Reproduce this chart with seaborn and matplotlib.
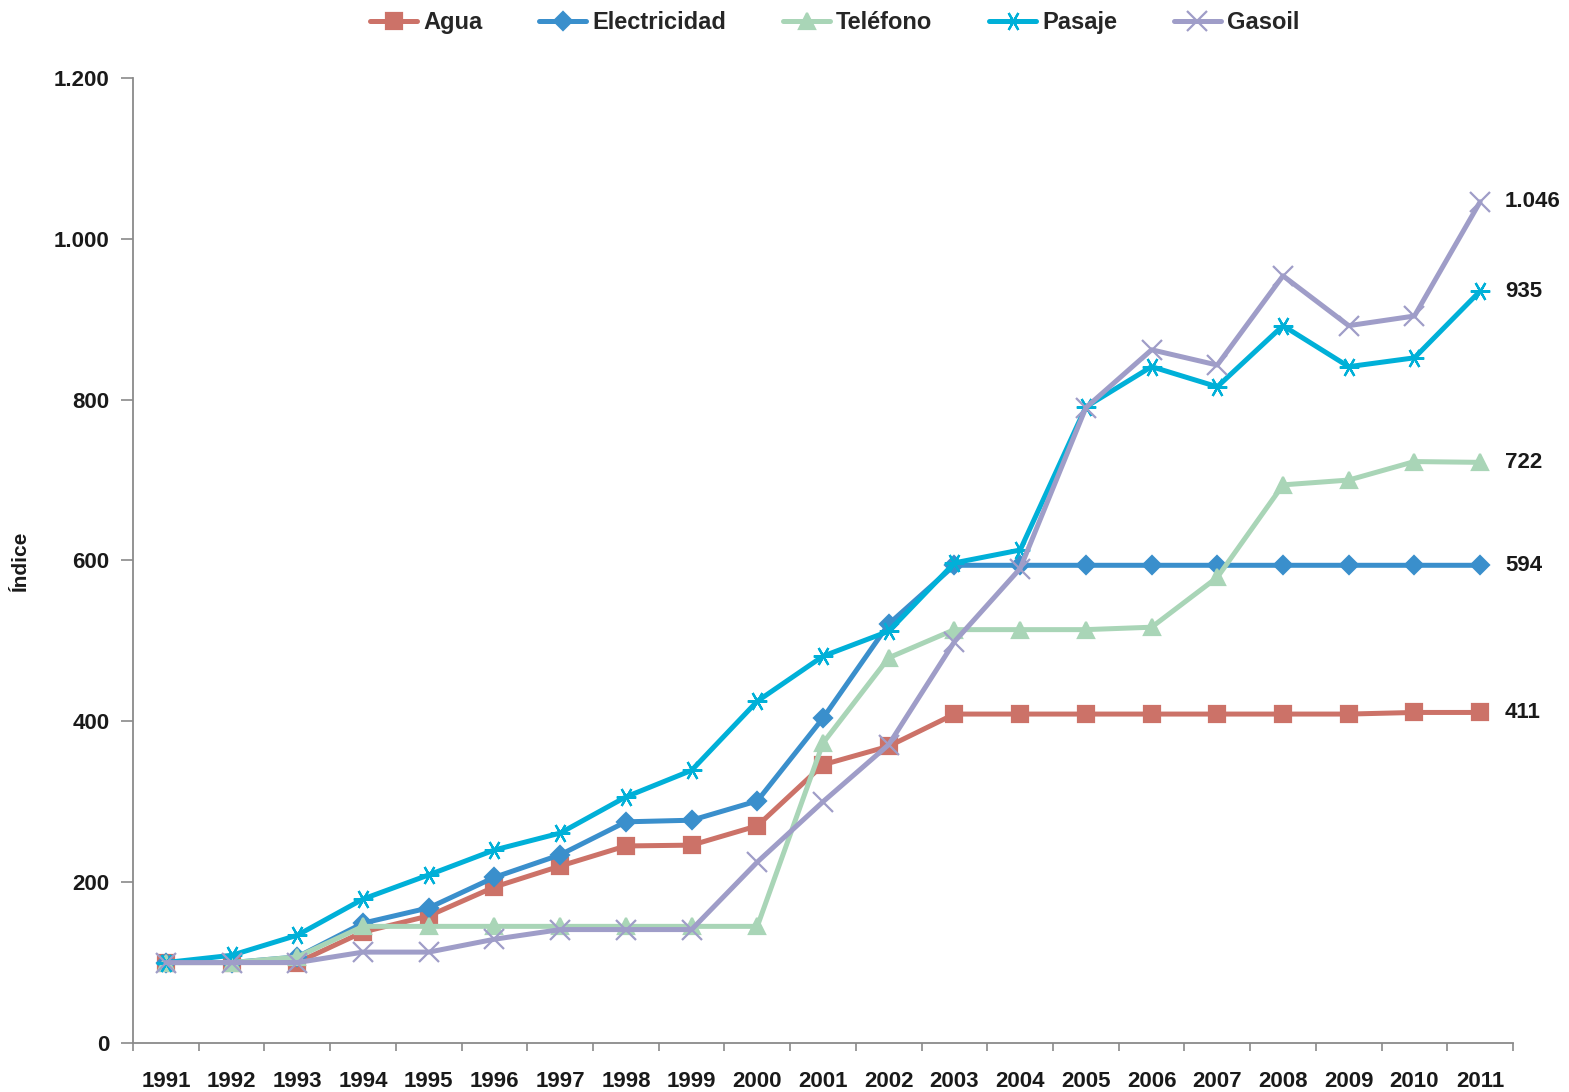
import numpy as np
import pandas as pd
import matplotlib
matplotlib.use("Agg")
import matplotlib.pyplot as plt
from matplotlib.ticker import FuncFormatter, FixedLocator
import seaborn as sns

# Datos (índice base 1991 = 100)
years = [str(y) for y in range(1991, 2012)]
agua = [100, 100, 100, 138, 158, 194, 220, 245, 246, 270, 346, 369,
        409, 409, 409, 409, 409, 409, 409, 411, 411]
electricidad = [100, 100, 107, 149, 168, 206, 234, 275, 277, 301, 404, 521,
                594, 594, 594, 594, 594, 594, 594, 594, 594]
telefono = [100, 100, 107, 145, 145, 145, 145, 145, 145, 145, 373, 479,
            514, 514, 514, 517, 579, 694, 700, 723, 722]
pasaje = [100, 109, 134, 179, 209, 240, 261, 306, 339, 425, 481, 512,
          597, 613, 791, 841, 816, 892, 841, 852, 935]
gasoil = [100, 100, 100, 113, 113, 129, 141, 141, 141, 225, 300, 371,
          499, 590, 790, 862, 843, 954, 892, 904, 1046]
end_labels = ["411", "594", "722", "935", "1.046"]

series = ["Agua", "Electricidad", "Teléfono", "Pasaje", "Gasoil"]
values = [agua, electricidad, telefono, pasaje, gasoil]
colors = ["#CC7268", "#3A8FCC", "#A9D5B7", "#00B0D8", "#9F9DC8"]
markers = ["s", "D", "^", (6, 2, 90), "x"]
msizes = [11.5, 9.5, 11, 14, 14]

sns.set_theme(style="white")
plt.rcParams["font.family"] = ["Liberation Sans", "DejaVu Sans"]
plt.rcParams["font.weight"] = "bold"

fig = plt.figure(figsize=(15.69, 10.92), dpi=100)
ax = fig.add_axes([0.0848, 0.0449, 0.8795, 0.8837])

x = np.arange(len(years))
for name, vals, c, m, ms in zip(series, values, colors, markers, msizes):
    df = pd.DataFrame({"x": x, "v": vals})
    sns.lineplot(data=df, x="x", y="v", ax=ax, color=c, linewidth=3.6,
                 marker=m, markersize=ms, markeredgecolor=c,
                 markerfacecolor=c, markeredgewidth=1.6, label=name)

# etiquetas finales
for vals, lab in zip(values, end_labels):
    ax.text(len(years) - 1 + 0.38, vals[-1], lab, ha="left", va="center",
            fontsize=16, fontweight="bold", color="#1a1a1a")

ax.set_xlim(-0.5, len(years) - 0.5)
ax.set_ylim(0, 1200)
ax.yaxis.set_major_locator(FixedLocator(range(0, 1201, 200)))
ax.yaxis.set_major_formatter(FuncFormatter(lambda v, p: f"{v:,.0f}".replace(",", ".")))

ax.xaxis.set_major_locator(FixedLocator(np.arange(-0.5, len(years), 1.0)))
ax.xaxis.set_major_formatter(FuncFormatter(lambda v, p: ""))
ax.xaxis.set_minor_locator(FixedLocator(x))
ax.set_xticks(x, years, minor=True)
ax.tick_params(axis="x", which="major", direction="out", length=6, width=1.2,
               color="#8a8a8a", bottom=True)
ax.tick_params(axis="x", which="minor", length=0, pad=20, labelsize=16)
ax.tick_params(axis="y", direction="out", length=9, width=1.2, color="#8a8a8a",
               left=True, labelsize=16, pad=8)
for lab in ax.get_xticklabels(minor=True) + ax.get_yticklabels():
    lab.set_fontweight("bold")
    lab.set_color("#1a1a1a")

ax.set_xlabel("")
ax.set_ylabel("Índice", fontsize=15, fontweight="bold", color="#1a1a1a")
ax.yaxis.set_label_coords(-0.075, 0.5)

for s in ["top", "right"]:
    ax.spines[s].set_visible(False)
for s in ["left", "bottom"]:
    ax.spines[s].set_color("#8a8a8a")
    ax.spines[s].set_linewidth(1.3)

handles, labels = ax.get_legend_handles_labels()
ax.get_legend().remove()
fig.legend(handles, labels, loc="center", bbox_to_anchor=(0.532, 0.979), ncol=5,
           frameon=False, handlelength=2.0, columnspacing=2.4,
           handletextpad=0.25, prop={"weight": "bold", "size": 17})

fig.savefig("out.png", dpi=100)
